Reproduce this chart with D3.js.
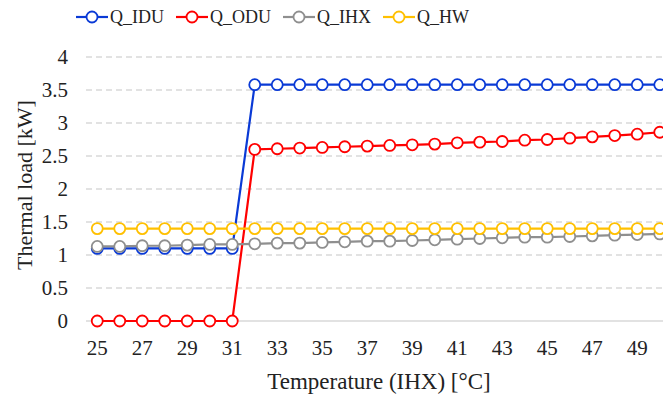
<!DOCTYPE html>
<html>
<head>
<meta charset="utf-8">
<script src="https://cdn.jsdelivr.net/npm/d3@7"></script>
<style>
  body { margin: 0; background: #fff; }
</style>
</head>
<body>
<svg></svg>
<script>
const temps = d3.range(25, 51);

const qIDU = [1.1, 1.1, 1.1, 1.1, 1.1, 1.1, 1.1,
    3.58, 3.58, 3.58, 3.58, 3.58, 3.58, 3.58, 3.58, 3.58, 3.58,
    3.58, 3.58, 3.58, 3.58, 3.58, 3.58, 3.58, 3.58, 3.58];
const qODU = [0, 0, 0, 0, 0, 0, 0,
    2.6, 2.61, 2.62, 2.63, 2.64, 2.65, 2.66, 2.67, 2.68,
    2.7, 2.71, 2.72, 2.74, 2.75, 2.77, 2.79, 2.81, 2.83, 2.86];
const qIHX = [1.13, 1.13, 1.14, 1.14, 1.15, 1.16, 1.16,
    1.17, 1.18, 1.18, 1.19, 1.2, 1.21, 1.21, 1.22, 1.23,
    1.24, 1.25, 1.26, 1.27, 1.27, 1.28, 1.29, 1.3, 1.31, 1.32];
const qHW = [1.4, 1.4, 1.4, 1.4, 1.4, 1.4, 1.4,
    1.4, 1.4, 1.4, 1.4, 1.4, 1.4, 1.4, 1.4, 1.4,
    1.4, 1.4, 1.4, 1.4, 1.4, 1.4, 1.4, 1.4, 1.4, 1.4];

const seriesNames = ["Q_IDU", "Q_ODU", "Q_IHX", "Q_HW"];
const seriesColors = ["#0a3ad6", "#ff0000", "#8f8f8f", "#ffc000"];
const seriesValues = [qIDU, qODU, qIHX, qHW];

const yTicks = [0, 0.5, 1, 1.5, 2, 2.5, 3, 3.5, 4];
const xTickLabels = d3.range(25, 50, 2);

const serif = "'Liberation Serif', 'Times New Roman', Times, 'DejaVu Serif', serif";

const svg = d3.select("svg")
    .attr("width", 663)
    .attr("height", 397)
    .attr("font-family", serif);

const x = d3.scaleBand()
    .domain(temps)
    .range([86, 671]);

const y = d3.scaleLinear()
    .domain([0, 4])
    .range([321, 57]);

const cx = d => x(d) + x.bandwidth() / 2;

// gridlines
svg.append("g")
    .selectAll("line")
    .data(yTicks.filter(d => d > 0))
    .enter()
    .append("line")
    .attr("x1", 86)
    .attr("x2", 671)
    .attr("y1", d => y(d))
    .attr("y2", d => y(d))
    .attr("stroke", "#d9d9d9")
    .attr("stroke-width", 1.3)
    .attr("stroke-dasharray", "6,4");

// x axis line
svg.append("line")
    .attr("x1", 86)
    .attr("x2", 671)
    .attr("y1", y(0))
    .attr("y2", y(0))
    .attr("stroke", "#d9d9d9")
    .attr("stroke-width", 1.3);

// y tick labels
svg.append("g")
    .selectAll("text")
    .data(yTicks)
    .enter()
    .append("text")
    .attr("x", 68)
    .attr("y", d => y(d))
    .attr("dy", "0.35em")
    .attr("text-anchor", "end")
    .attr("font-family", serif)
    .attr("font-size", 21)
    .attr("fill", "#222")
    .text(d => d);

// x tick labels
svg.append("g")
    .selectAll("text")
    .data(xTickLabels)
    .enter()
    .append("text")
    .attr("x", d => cx(d))
    .attr("y", 348)
    .attr("dy", "0.35em")
    .attr("text-anchor", "middle")
    .attr("font-family", serif)
    .attr("font-size", 21)
    .attr("fill", "#222")
    .text(d => d);

// axis titles
svg.append("text")
    .attr("x", 379)
    .attr("y", 381)
    .attr("dy", "0.35em")
    .attr("text-anchor", "middle")
    .attr("font-family", serif)
    .attr("font-size", 23)
    .attr("fill", "#222")
    .text("Temperature (IHX) [°C]");

svg.append("text")
    .attr("transform", "translate(24,185) rotate(-90)")
    .attr("dy", "0.35em")
    .attr("text-anchor", "middle")
    .attr("font-family", serif)
    .attr("font-size", 22)
    .attr("fill", "#222")
    .text("Thermal load [kW]");

// series
const line = d3.line()
    .x((d, i) => cx(temps[i]))
    .y(d => y(d));

seriesValues.forEach((vals, k) => {
    const gs = svg.append("g");
    gs.append("path")
        .attr("d", line(vals))
        .attr("fill", "none")
        .attr("stroke", seriesColors[k])
        .attr("stroke-width", 2.2);
    gs.selectAll("circle")
        .data(vals)
        .enter()
        .append("circle")
        .attr("cx", (d, i) => cx(temps[i]))
        .attr("cy", d => y(d))
        .attr("r", 5.5)
        .attr("fill", "#fff")
        .attr("stroke", seriesColors[k])
        .attr("stroke-width", 1.8);
});

// legend
const legendX = [76, 176, 283, 383];
const leg = svg.append("g");
seriesNames.forEach((name, k) => {
    const lx = legendX[k];
    leg.append("line")
        .attr("x1", lx)
        .attr("x2", lx + 32)
        .attr("y1", 17)
        .attr("y2", 17)
        .attr("stroke", seriesColors[k])
        .attr("stroke-width", 2.2);
    leg.append("circle")
        .attr("cx", lx + 16)
        .attr("cy", 17)
        .attr("r", 5.5)
        .attr("fill", "#fff")
        .attr("stroke", seriesColors[k])
        .attr("stroke-width", 1.8);
    leg.append("text")
        .attr("x", lx + 34)
        .attr("y", 17)
        .attr("dy", "0.35em")
        .attr("font-family", serif)
        .attr("font-size", 18)
        .attr("fill", "#222")
        .text(name);
});
</script>
</body>
</html>
